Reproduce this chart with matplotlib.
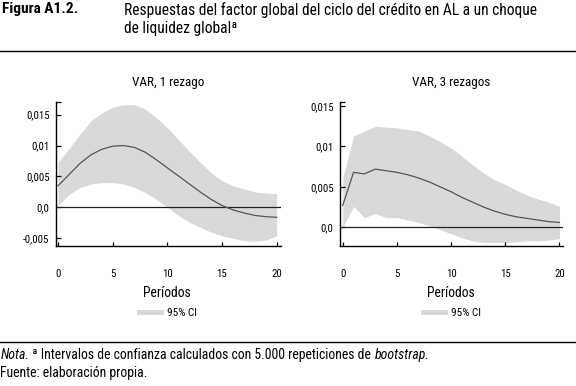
import matplotlib
matplotlib.use("Agg")
import matplotlib.pyplot as plt
from matplotlib import font_manager as fm
from matplotlib.lines import Line2D
from matplotlib.patches import Rectangle

available = {f.name for f in fm.fontManager.ttflist}
candidates = ['Liberation Sans Narrow', 'Roboto Condensed', 'Open Sans Condensed',
              'Noto Sans Condensed', 'Noto Sans', 'Liberation Sans']
FONT = next((c for c in candidates if c in available), 'DejaVu Sans')
plt.rcParams['font.family'] = [FONT, 'DejaVu Sans']

periods = list(range(21))

# VAR, 1 rezago
irf1 = [0.0035, 0.0053, 0.0071, 0.0085, 0.0094, 0.0099, 0.0100, 0.0097, 0.0089, 0.0077,
        0.0064, 0.0051, 0.0038, 0.0025, 0.0013, 0.0003, -0.0004, -0.0009, -0.0013, -0.0015, -0.0016]
up1 = [0.0073, 0.0095, 0.0118, 0.0140, 0.0153, 0.0162, 0.0166, 0.0166, 0.0159, 0.0145,
       0.0129, 0.0110, 0.0091, 0.0073, 0.0056, 0.0043, 0.0035, 0.0030, 0.0025, 0.0023, 0.0022]
lo1 = [0.0003, 0.0021, 0.0032, 0.0038, 0.0040, 0.0040, 0.0038, 0.0032, 0.0024, 0.0013,
       0.0000, -0.0013, -0.0024, -0.0032, -0.0040, -0.0046, -0.0050, -0.0054, -0.0055, -0.0053, -0.0046]

# VAR, 3 rezagos
irf3 = [0.0027, 0.0068, 0.0066, 0.0072, 0.0070, 0.0068, 0.0065, 0.0061, 0.0056, 0.0050,
        0.0044, 0.0037, 0.0031, 0.0025, 0.0020, 0.0016, 0.0013, 0.0011, 0.0009, 0.0007, 0.0006]
up3 = [0.0061, 0.0113, 0.0119, 0.0125, 0.0124, 0.0123, 0.0121, 0.0119, 0.0113, 0.0106,
       0.0098, 0.0088, 0.0077, 0.0067, 0.0059, 0.0053, 0.0046, 0.0040, 0.0035, 0.0031, 0.0026]
lo3 = [0.0000, 0.0026, 0.0012, 0.0017, 0.0012, 0.0012, 0.0009, 0.0006, 0.0002, -0.0003,
       -0.0008, -0.0013, -0.0017, -0.0019, -0.0019, -0.0019, -0.0018, -0.0017, -0.0017, -0.0016, -0.0014]

yticks1 = [-0.005, 0.0, 0.005, 0.01, 0.015]
ylabels1 = ['-0,005', '0,0', '0,005', '0,01', '0,015']
yticks3 = [0.0, 0.005, 0.01, 0.015]
ylabels3 = ['0,0', '0,005', '0,01', '0,015']
xticks = [0, 5, 10, 15, 20]
titles = ['VAR, 1 rezago', 'VAR, 3 rezagos']

band_color = '#d9d9d9'
line_color = '#555555'

fig = plt.figure(figsize=(5.76, 3.86), dpi=100)
W, H = 576.0, 386.0
def fx(px):
    return px / W
def fy(py):
    return 1 - py / H

renderer = fig.canvas.get_renderer()
def width_px(txt, size, **kw):
    t = fig.text(0, 0, txt, fontsize=size, **kw)
    w = t.get_window_extent(renderer).width
    t.remove()
    return w
def fit(txt, target, **kw):
    return 10.0 * target / width_px(txt, 10.0, **kw)

tick_fs = fit('0,015', 23.5)
title_fs = fit('VAR, 1 rezago', 72)
xl_fs = fit('Períodos', 48)
leg_fs = fit('95% CI', 30)
head_fs = fit('Respuestas del factor global del ciclo del crédito en AL a un choque', 413)
fig_fs = fit('Figura A1.2.', 76, fontweight='bold')
note_parts = [('Nota.', 'italic'), (' ª Intervalos de confianza calculados con 5.000 repeticiones de ', 'normal'),
              ('bootstrap.', 'italic')]
note_w10 = sum(width_px(s, 10.0, style=st) for s, st in note_parts)
note_fs = 10.0 * 428 / note_w10
src_fs = fit('Fuente: elaboración propia.', 147)
src_fs = min(src_fs, note_fs * 1.05)

ax1 = fig.add_axes([fx(55.7), fy(245.7), fx(281.0) - fx(55.7), fy(101.7) - fy(245.7)])
ax2 = fig.add_axes([fx(340.0), fy(245.7), fx(562.7) - fx(340.0), fy(101.7) - fy(245.7)])

def style(ax, irf, up, lo, yt, yl, ylim, xlim, title, ypad):
    ax.fill_between(periods, lo, up, color=band_color, lw=0, zorder=1)
    ax.plot(periods, irf, color=line_color, lw=0.9, zorder=3)
    ax.axhline(0, color='#222222', lw=0.9, zorder=2)
    ax.set_xlim(*xlim)
    ax.set_ylim(*ylim)
    ax.set_xticks(xticks)
    ax.set_xticklabels([str(v) for v in xticks])
    ax.set_yticks(yt)
    ax.set_yticklabels(yl)
    ax.set_yticks([ylim[1]], minor=True)
    for s in ['top', 'right']:
        ax.spines[s].set_visible(False)
    for s in ['left', 'bottom']:
        ax.spines[s].set_linewidth(1.0)
        ax.spines[s].set_color('black')
    ax.tick_params(axis='y', which='both', direction='in', length=3.6, width=0.9, pad=ypad, labelsize=tick_fs)
    ax.tick_params(axis='x', direction='in', length=3.0, width=0.9, pad=16.5, labelsize=tick_fs)
    ax.set_title(title, fontsize=title_fs, pad=11.5)
    # x label and legend centred under period 10
    xc = ax.transData.transform((10, 0))[0]
    fig.text(xc / W, fy(293), 'Períodos', ha='center', va='center', fontsize=xl_fs)
    total = 27 + 3 + width_px('95% CI', leg_fs)
    x0 = xc - total / 2
    fig.add_artist(Rectangle((x0 / W, fy(315)), 27 / W, 5 / H, transform=fig.transFigure,
                             color=band_color, lw=0))
    fig.text((x0 + 30) / W, fy(312.5), '95% CI', ha='left', va='center', fontsize=leg_fs)

style(ax1, irf1, up1, lo1, yticks1, ylabels1, (-0.0062, 0.0171), (-0.22, 20.4), titles[0], 4.4)
style(ax2, irf3, up3, lo3, yticks3, ylabels3, (-0.00228, 0.01554), (-0.25, 20.3), titles[1], 4.6)

# header
fig.text(fx(2), fy(9.5), 'Figura A1.2.', ha='left', va='center', fontsize=fig_fs, fontweight='bold')
fig.text(fx(124), fy(9.5), 'Respuestas del factor global del ciclo del crédito en AL a un choque',
         ha='left', va='center', fontsize=head_fs)
fig.text(fx(124), fy(28), 'de liquidez globalª', ha='left', va='center', fontsize=head_fs)

fig.add_artist(Line2D([0, 1], [fy(51), fy(51)], transform=fig.transFigure, color='black', lw=1.0))
fig.add_artist(Line2D([0, 1], [fy(341.7), fy(341.7)], transform=fig.transFigure, color='black', lw=1.0))

# notes
x = 0.5
for s, st in note_parts:
    fig.text(x / W, fy(355), s, ha='left', va='center', fontsize=note_fs, style=st)
    x += width_px(s, note_fs, style=st)
fig.text(fx(0.5), fy(372.7), 'Fuente: elaboración propia.', ha='left', va='center', fontsize=src_fs)

fig.savefig('out.png', dpi=100)
